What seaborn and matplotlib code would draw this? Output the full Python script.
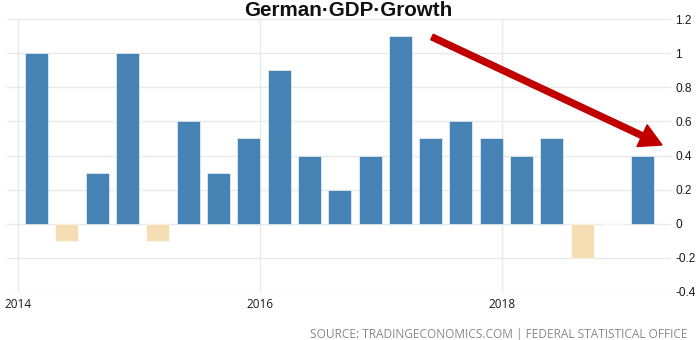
import matplotlib
matplotlib.use("Agg")
import matplotlib.pyplot as plt
import matplotlib.patches as mpatches
import matplotlib.transforms as mtransforms
from matplotlib.ticker import FuncFormatter
import seaborn as sns
import pandas as pd

quarters = ["2014Q1", "2014Q2", "2014Q3", "2014Q4",
            "2015Q1", "2015Q2", "2015Q3", "2015Q4",
            "2016Q1", "2016Q2", "2016Q3", "2016Q4",
            "2017Q1", "2017Q2", "2017Q3", "2017Q4",
            "2018Q1", "2018Q2", "2018Q3", "2018Q4",
            "2019Q1"]
growth = [1.0, -0.1, 0.3, 1.0,
          -0.1, 0.6, 0.3, 0.5,
          0.9, 0.4, 0.2, 0.4,
          1.1, 0.5, 0.6, 0.5,
          0.4, 0.5, -0.2, 0.0,
          0.4]
year_ticks = [2014, 2016, 2018]
y_ticks = [-0.4, -0.2, 0, 0.2, 0.4, 0.6, 0.8, 1.0, 1.2]
title = "German\u00b7GDP\u00b7Growth"
source = "SOURCE: TRADINGECONOMICS.COM | FEDERAL STATISTICAL OFFICE"

# time position of each quarter (fractional year)
xpos = [int(q[:4]) + (int(q[-1]) - 1) * 0.25 + 0.1575 for q in quarters]
df = pd.DataFrame({"x": xpos, "y": growth,
                   "sign": ["neg" if v < 0 else "pos" for v in growth]})

sns.set_style("white")
plt.rcParams["font.family"] = ["Open Sans", "DejaVu Sans"]

fig = plt.figure(figsize=(6.99, 3.40), dpi=100)
ax = fig.add_axes([7 / 699, 48 / 340, (671 - 7) / 699, (321 - 48) / 340])

sns.barplot(data=df, x="x", y="y", hue="sign", native_scale=True, dodge=False,
            palette={"pos": "#4682b4", "neg": "#f5deb3"}, width=0.76, saturation=1,
            edgecolor="white", linewidth=0.4, legend=False, ax=ax, zorder=3)

ax.set_xlim(2013.913, 2019.39)
ax.set_ylim(-0.4, 1.2)
ax.set_xticks(year_ticks)
ax.set_xticklabels([str(y) for y in year_ticks])
ax.set_yticks(y_ticks)
ax.yaxis.set_major_formatter(FuncFormatter(lambda v, p: f"{round(v, 1):g}"))
ax.yaxis.tick_right()
ax.tick_params(axis="both", length=0, colors="#1a1a1a")
ax.tick_params(axis="x", pad=4, labelsize=8.5)
ax.tick_params(axis="y", pad=3, labelsize=8.6)
for lab in ax.get_yticklabels():
    lab.set_family(["Liberation Sans", "DejaVu Sans"])
ax.grid(True, color="#e9e9e9", linewidth=1, zorder=0)
ax.set_axisbelow(True)
for s in ax.spines.values():
    s.set_visible(False)
ax.set_xlabel("")
ax.set_ylabel("")

fig.text(348 / 699, 1 - 10.5 / 340, title, ha="center", va="center",
         fontsize=14.9, fontweight="bold", family=["Liberation Sans", "DejaVu Sans"],
         color="#111111")
fig.text(688 / 699, 2 / 340, source, ha="right", va="baseline",
         fontsize=8.6, color="#8a8a8a")

arrow = mpatches.FancyArrow(432, 303, 230, -108, width=6, head_width=24,
                            head_length=22, length_includes_head=True,
                            color="#c00000", transform=mtransforms.IdentityTransform())
fig.add_artist(arrow)

fig.savefig("out.png", dpi=100)
